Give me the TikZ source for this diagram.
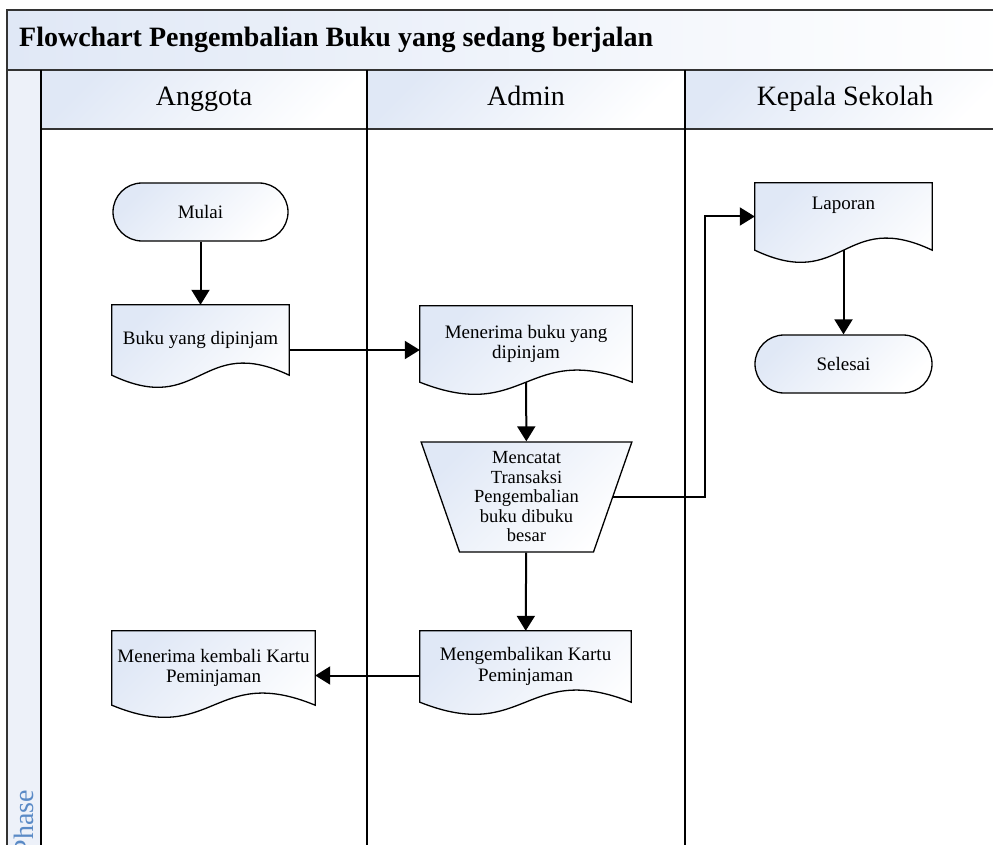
\documentclass[tikz,border=0pt]{standalone}
\usepackage{fontspec}
\setmainfont{Liberation Serif}
\usepackage{tikz}
\usetikzlibrary{arrows.meta,shapes.geometric,backgrounds}

\definecolor{lightblue}{HTML}{E0E8F6}
\definecolor{phaseblue}{HTML}{EDF1F9}
\definecolor{phasetext}{HTML}{5A8AC6}
\definecolor{framegray}{HTML}{333333}

\newcommand{\nodefont}{\fontsize{19}{20.5}\selectfont}
% document outline with wavy bottom, behind the node text
\newcommand{\docwave}[1]{%
  \begin{pgfonlayer}{background}
    \path[docline] (#1.south west) -- (#1.north west) -- (#1.north east) -- (#1.south east)
      .. controls ([yshift=42pt]#1.south) and ([yshift=-42pt]#1.south) .. (#1.south west) -- cycle;
  \end{pgfonlayer}}

\begin{document}
\begin{tikzpicture}[x=1pt, y=-1pt,
    frame/.style={draw=framegray, line width=2.5pt},
    lane/.style={draw=black, line width=2pt},
    shadebox/.style={top color=lightblue, bottom color=white, shading angle=45},
    terminal/.style={shadebox, draw, line width=1.3pt, rectangle, rounded corners=29pt,
      minimum width=175pt, minimum height=58pt, font=\nodefont},
    doc/.style={rectangle, inner sep=2pt, align=center, font=\nodefont},
    docline/.style={shadebox, draw, line width=1.3pt},
    manual/.style={shadebox, draw, line width=1.3pt, trapezium, shape border rotate=180,
      trapezium stretches=true, trapezium left angle=71.6, trapezium right angle=71.6,
      minimum width=211pt, minimum height=110pt, inner sep=0pt, align=center,
      font=\fontsize{18.5}{19.5}\selectfont},
    flow/.style={line width=2pt, -{Triangle[width=18pt,length=15pt]}},
    header/.style={anchor=base, font=\fontsize{28}{32}\selectfont},
  ]
    \clip (0,0) rectangle (993,845);

    % Draw lanes
    \begin{pgfonlayer}{background}
        \shade[left color=lightblue, right color=white] (7,10) rectangle (1010,70);
        \fill[phaseblue] (7,70) rectangle (41,860);
        \shade[shadebox] (41,70) rectangle (367,129);
        \shade[shadebox] (367,70) rectangle (685,129);
        \shade[shadebox] (685,70) rectangle (1010,129);
        \draw[frame] (1010,10) -- (7,10) -- (7,860);
        \draw[frame] (7,70) -- (1010,70);
        \draw[frame] (41,129) -- (1010,129);
        \draw[lane] (41,70) -- (41,860);
        \draw[lane] (367,70) -- (367,860);
        \draw[lane] (685,70) -- (685,860);
    \end{pgfonlayer}

    \node[anchor=west, inner sep=0pt, font=\fontsize{28}{32}\selectfont\bfseries] (title) at (19,40)
        {Flowchart Pengembalian Buku yang sedang berjalan};
    \node[header] (anggota) at (204,106) {Anggota};
    \node[header] (admin) at (526,106) {Admin};
    \node[header] (kepala) at (845,106) {Kepala Sekolah};
    \node[anchor=base east, rotate=90, text=phasetext, font=\fontsize{28}{32}\selectfont,
        inner sep=0pt] (phase) at (33,790) {Phase};

    % Draw nodes
    \node[terminal] (mulai) at (200.5,212) {Mulai};
    \node[doc, minimum width=177pt, minimum height=70pt] (buku) at (200.5,340) {Buku yang dipinjam};
    \node[doc, minimum width=212pt, minimum height=76pt] (terima) at (526,344) {Menerima buku yang\\dipinjam};
    \node[manual] (catat) at (526.5,497) {Mencatat\\Transaksi\\Pengembalian\\buku dibuku\\besar};
    \node[doc, minimum width=211pt, minimum height=71pt] (kembalikan) at (525.5,666.5) {Mengembalikan Kartu\\Peminjaman};
    \node[doc, minimum width=203pt, minimum height=74pt] (terimakartu) at (213.5,668) {Menerima kembali Kartu\\Peminjaman};
    \node[doc, minimum width=177pt, minimum height=67pt] (laporan) at (843.5,216.5) {Laporan\\[6pt]};
    \node[terminal, minimum width=177pt] (selesai) at (843.5,364) {Selesai};
    \docwave{buku}
    \docwave{terima}
    \docwave{kembalikan}
    \docwave{terimakartu}
    \docwave{laporan}

    % Draw arrows
    \draw[flow] (mulai) -- (buku);
    \draw[flow] ([yshift=-10pt]buku.east) -- ([yshift=-10pt]buku.east -| terima.west);
    \draw[flow] (terima) -- (catat);
    \draw[flow] (catat.east) -| ([xshift=-50pt]laporan.west) -- (laporan.west);
    \draw[flow] (catat) -- (kembalikan);
    \draw[flow] ([yshift=-9pt]kembalikan.west) -- ([yshift=-9pt]kembalikan.west -| terimakartu.east);
    \draw[flow] (laporan) -- (selesai);
\end{tikzpicture}
\end{document}
